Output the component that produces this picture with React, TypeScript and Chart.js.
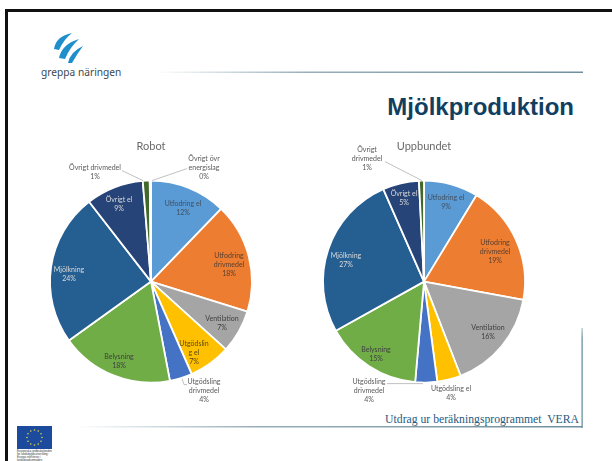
import React, { useEffect, useRef } from "react";
import { Chart, registerables } from "chart.js";

Chart.register(...registerables);

const categories = [
  "Utfodring el",
  "Utfodring drivmedel",
  "Ventilation",
  "Utgödsling el",
  "Utgödsling drivmedel",
  "Belysning",
  "Mjölkning",
  "Övrigt el",
  "Övrigt drivmedel",
  "Övrigt övr energislag",
];
const robotValues = [12.2, 17.6, 6.9, 6.7, 3.6, 18.1, 24.4, 9.2, 1.1, 0.2];
const uppbundetValues = [8.7, 19.2, 16.2, 3.8, 3.5, 15.5, 26.5, 5.8, 0.8, 0];
const sliceColors = ["#5B9BD5", "#ED7D31", "#A5A5A5", "#FFC000", "#4472C4", "#70AD47", "#255E91", "#264478", "#43682B", "#9E480E"];

type Lab = { lines: string[]; dx: number; dy: number; color: string };
const DARK = "#404040";
const LIGHT = "#D9D9D9";
const OUT = "#595959";

const robotLabels: Lab[] = [
  { lines: ["Utfodring el", "12%"], dx: 32, dy: -73, color: "#3F4F60" },
  { lines: ["Utfodring", "drivmedel", "18%"], dx: 78, dy: -17, color: "#5A4030" },
  { lines: ["Ventilation", "7%"], dx: 71, dy: 42, color: DARK },
  { lines: ["Utgödslin", "g el", "7%"], dx: 43, dy: 71, color: "#5A4A10" },
  { lines: ["Utgödsling", "drivmedel", "4%"], dx: 53, dy: 109, color: OUT },
  { lines: ["Belysning", "18%"], dx: -32, dy: 80, color: DARK },
  { lines: ["Mjölkning", "24%"], dx: -82, dy: -7, color: LIGHT },
  { lines: ["Övrigt el", "9%"], dx: -32, dy: -77, color: LIGHT },
  { lines: ["Övrigt drivmedel", "1%"], dx: -56, dy: -109, color: OUT },
  { lines: ["Övrigt övr", "energislag", "0%"], dx: 53, dy: -114, color: OUT },
];
const uppbundetLabels: Lab[] = [
  { lines: ["Utfodring el", "9%"], dx: 22, dy: -79, color: "#3F4F60" },
  { lines: ["Utfodring", "drivmedel", "19%"], dx: 71, dy: -30, color: "#5A4030" },
  { lines: ["Ventilation", "16%"], dx: 64, dy: 51, color: DARK },
  { lines: ["Utgödsling el", "4%"], dx: 27, dy: 112, color: OUT },
  { lines: ["Utgödsling", "drivmedel", "4%"], dx: -55, dy: 109, color: OUT },
  { lines: ["Belysning", "15%"], dx: -48, dy: 73, color: DARK },
  { lines: ["Mjölkning", "27%"], dx: -78, dy: -21, color: LIGHT },
  { lines: ["Övrigt el", "5%"], dx: -20, dy: -83, color: LIGHT },
  { lines: ["Övrigt", "drivmedel", "1%"], dx: -57, dy: -123, color: OUT },
];

type Leader = [number, number][];
const robotLeaders: Leader[] = [
  [[-29, -111], [-8, -101]],
  [[36, -113], [1, -101]],
  [[31, 97], [33, 103], [36, 103]],
];
const uppbundetLeaders: Leader[] = [
  [[-39, -120], [-2, -101]],
  [[-37, 102], [-1, 102]],
];

const labelPlugin = {
  id: "sliceLabels",
  afterDatasetsDraw(chart: any, _a: any, opts: any) {
    const arc = chart.getDatasetMeta(0).data[0];
    if (!arc) return;
    const { x, y } = arc;
    const ctx = chart.ctx;
    ctx.save();
    ctx.strokeStyle = "#A6A6A6";
    ctx.lineWidth = 0.7;
    (opts.leaders as Leader[]).forEach((l) => {
      ctx.beginPath();
      l.forEach(([a, b], i) => (i ? ctx.lineTo(x + a, y + b) : ctx.moveTo(x + a, y + b)));
      ctx.stroke();
    });
    ctx.font = "7px Lato";
    ctx.textAlign = "center";
    ctx.textBaseline = "middle";
    (opts.labels as Lab[]).forEach((lab) => {
      ctx.fillStyle = lab.color;
      const h = 9;
      const y0 = y + lab.dy - ((lab.lines.length - 1) * h) / 2;
      lab.lines.forEach((t, i) => ctx.fillText(t, x + lab.dx, y0 + i * h));
    });
    ctx.restore();
  },
};

function Pie({ title, values, labels, leaders, left }: { title: string; values: number[]; labels: Lab[]; leaders: Leader[]; left: number }) {
  const ref = useRef<HTMLCanvasElement>(null);
  useEffect(() => {
    const chart = new Chart(ref.current!, {
      type: "pie",
      data: {
        labels: categories,
        datasets: [{ data: values, backgroundColor: sliceColors, borderColor: "#FFFFFF", borderWidth: 1.8, radius: 101 }],
      },
      options: {
        responsive: false,
        animation: false,
        plugins: {
          legend: { display: false },
          tooltip: { enabled: false },
          title: {
            display: true,
            text: title,
            color: "#6A6A6A",
            font: { family: "Lato", size: 11, weight: "normal" },
            padding: { top: 30, bottom: 0 },
          },
          sliceLabels: { labels, leaders },
        } as any,
      },
      plugins: [labelPlugin],
    });
    return () => chart.destroy();
  }, []);
  return <canvas ref={ref} width={280} height={300} style={{ position: "absolute", left, top: 110, width: 280, height: 300 }} />;
}

const stars = [0, 30, 60, 90, 120, 150, 180, 210, 240, 270, 300, 330];

export default function App() {
  return (
    <div style={{ position: "absolute", left: 0, top: 0, width: 612, height: 461, background: "#fff", overflow: "hidden" }}>
      <style>{`body{margin:0}`}</style>
      <div style={{ position: "absolute", left: 5, top: 9, width: 607, height: 3, background: "#111" }} />
      <div style={{ position: "absolute", left: 5, top: 9, width: 3, height: 452, background: "#111" }} />
      <svg width={612} height={461} style={{ position: "absolute", left: 0, top: 0 }}>
        <defs>
          <linearGradient id="hl" x1="0" x2="1" y1="0" y2="0">
            <stop offset="0" stopColor="#7F9BA8" stopOpacity="0" />
            <stop offset="0.35" stopColor="#7F9BA8" stopOpacity="0.8" />
            <stop offset="1" stopColor="#6F8F9F" />
          </linearGradient>
          <linearGradient id="vl" x1="0" x2="0" y1="0" y2="1">
            <stop offset="0" stopColor="#5F8794" stopOpacity="0.5" />
            <stop offset="0.1" stopColor="#5F8794" />
            <stop offset="1" stopColor="#5F8794" />
          </linearGradient>
        </defs>
        <rect x={156} y={71.5} width={427} height={1.5} fill="url(#hl)" />
        <rect x={75} y={426} width={507} height={1.5} fill="url(#hl)" />
        <rect x={581.5} y={328} width={1.2} height={100} fill="url(#vl)" />
        <g fill="#1E8FCB">
          <path d="M54 49 Q56 36 72 33 Q64 39 59 50 Z" />
          <path d="M59 58 Q62 44 79 39 Q70 47 65 59 Z" />
          <path d="M68 63 Q70 52 83 46 Q77 54 72 63 Z" />
        </g>
        <rect x={17} y={426} width={35} height={23} fill="#1C4A9C" />
        {stars.map((a) => (
          <circle key={a} cx={34.5 + 7.5 * Math.cos((a * Math.PI) / 180)} cy={437.5 + 7.5 * Math.sin((a * Math.PI) / 180)} r={0.8} fill="#E8D44A" />
        ))}
      </svg>
      <div style={{ position: "absolute", left: 41, top: 65, font: "10.2px 'Noto Sans'", color: "#3A4A52", whiteSpace: "nowrap" }}>greppa näringen</div>
      <div style={{ position: "absolute", right: 38, top: 93, font: "bold 24px 'Liberation Sans'", color: "#123F5F", whiteSpace: "nowrap" }}>Mjölkproduktion</div>
      <div style={{ position: "absolute", right: 33, top: 413, font: "11.7px 'Liberation Serif'", color: "#1F5C7F", whiteSpace: "pre" }}>Utdrag ur beräkningsprogrammet  VERA</div>
      <div style={{ position: "absolute", left: 17, top: 450, width: 36, font: "2.8px/3px 'Liberation Sans'", color: "#333" }}>Europeiska jordbruksfonden för landsbygdsutveckling: Europa investerar i landsbygdsområden</div>
      <Pie title="Robot" values={robotValues} labels={robotLabels} leaders={robotLeaders} left={11} />
      <Pie title="Uppbundet" values={uppbundetValues} labels={uppbundetLabels} leaders={uppbundetLeaders} left={284} />
    </div>
  );
}
